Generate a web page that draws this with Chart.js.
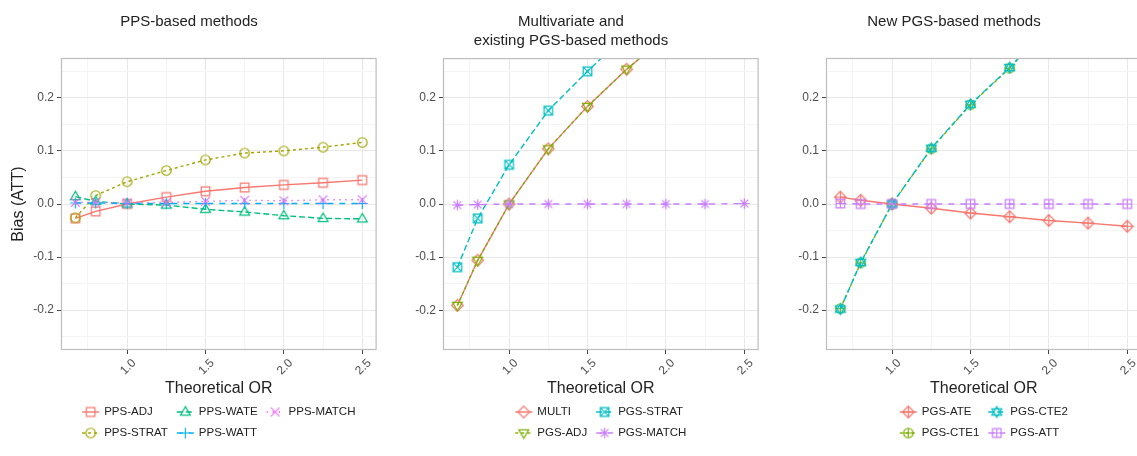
<!DOCTYPE html>
<html>
<head>
<meta charset="utf-8">
<script src="https://cdn.jsdelivr.net/npm/chart.js@4.4.1/dist/chart.umd.min.js"></script>
<style>
  html, body { margin: 0; padding: 0; background: #fff; overflow: hidden; }
  #wrap { position: relative; width: 1137px; height: 456px; overflow: hidden; }
  .panel { position: absolute; top: 0; width: 383px; height: 456px; }
</style>
</head>
<body>
<div id="wrap">
  <div class="panel" style="left:0"><canvas id="c1" width="383" height="456"></canvas></div>
  <div class="panel" style="left:382px"><canvas id="c2" width="383" height="456"></canvas></div>
  <div class="panel" style="left:765px"><canvas id="c3" width="383" height="456"></canvas></div>
</div>
<script>
// --- data ---
const theoreticalOR = [0.67, 0.8, 1.0, 1.25, 1.5, 1.75, 2.0, 2.25, 2.5];
const xMajorTicks = [1.0, 1.5, 2.0, 2.5];
const xMinorTicks = [0.75, 1.25, 1.75, 2.25];
const xTickLabels = ['1.0', '1.5', '2.0', '2.5'];
const yMajorTicks = [-0.2, -0.1, 0.0, 0.1, 0.2];
const yMinorTicks = [-0.25, -0.15, -0.05, 0.05, 0.15, 0.25];
const yTickLabels = ['-0.2', '-0.1', '0.0', '0.1', '0.2'];
const yLimits = [-0.25, 0.25];

// panel 1
const ppsLabels = ['PPS-ADJ', 'PPS-STRAT', 'PPS-WATE', 'PPS-WATT', 'PPS-MATCH'];
const ppsAdj   = [-0.027, -0.014, 0.000, 0.013, 0.024, 0.031, 0.036, 0.040, 0.045];
const ppsStrat = [-0.026, 0.016, 0.042, 0.063, 0.083, 0.096, 0.100, 0.107, 0.116];
const ppsWate  = [0.014, 0.005, 0.000, -0.002, -0.010, -0.015, -0.022, -0.027, -0.028];
const ppsWatt  = [0.002, 0.002, 0.001, 0.001, 0.001, 0.001, 0.001, 0.001, 0.001];
const ppsMatch = [0.003, 0.003, 0.002, 0.003, 0.005, 0.007, 0.006, 0.008, 0.008];

// panel 2
const existLabels = ['MULTI', 'PGS-ADJ', 'PGS-STRAT', 'PGS-MATCH'];
const multi    = [-0.191, -0.106, 0.000, 0.104, 0.184, 0.254, 0.315, 0.370, 0.420];
const pgsAdj   = [-0.191, -0.106, 0.000, 0.104, 0.184, 0.254, 0.315, 0.370, 0.420];
const pgsStrat = [-0.119, -0.027, 0.074, 0.176, 0.250, 0.320, 0.380, 0.430, 0.480];
const pgsMatch = [-0.002, -0.001, 0.000, 0.000, 0.000, 0.000, 0.000, 0.000, 0.001];

// panel 3
const newLabels = ['PGS-ATE', 'PGS-CTE1', 'PGS-CTE2', 'PGS-ATT'];
const pgsAte  = [0.013, 0.007, 0.000, -0.008, -0.017, -0.024, -0.031, -0.036, -0.042];
const pgsCte1 = [-0.197, -0.111, 0.000, 0.104, 0.187, 0.256, 0.335, 0.390, 0.440];
const pgsCte2 = [-0.198, -0.110, 0.000, 0.105, 0.188, 0.257, 0.335, 0.390, 0.440];
const pgsAtt  = [0.001, 0.000, 0.000, 0.000, 0.000, 0.000, 0.000, 0.000, 0.000];

// --- styles ---
const hue5 = ['#F8766D', '#A3A500', '#00BF7D', '#00B0F6', '#E76BF3'];
const hue4 = ['#F8766D', '#7CAE00', '#00BFC4', '#C77CFF'];
const dashes = { solid: [], '22': [3, 3], '42': [6, 3], '44': [6, 6], '13': [1.5, 4.5] };
const FONT = '"Liberation Sans", Arial, sans-serif';

// ggplot-like hollow point shapes, drawn once into little canvases
const R = 4.3;
const shapeParts = {
  square: [['square', 1]],
  circle: [['circle', 1.1]],
  triangle: [['tri', 1.05]],
  plus: [['plus', 1.25]],
  cross: [['x', 1]],
  diamond: [['diamond', 1.35]],
  triangleDown: [['triDown', 1.05]],
  squareCross: [['square', 1], ['x', 1]],
  asterisk: [['plus', 1.2], ['x', 0.9]],
  diamondPlus: [['diamond', 1.35], ['plus', 1.35]],
  circlePlus: [['circle', 1.1], ['plus', 1.1]],
  star: [['tri', 1.05], ['triDown', 1.05]],
  squarePlus: [['square', 1], ['plus', 1]]
};

function drawPrim(g, name, k) {
  const r = R * k;
  g.beginPath();
  if (name === 'square') g.rect(-r, -r, 2 * r, 2 * r);
  if (name === 'circle') g.arc(0, 0, r, 0, Math.PI * 2);
  if (name === 'tri') { g.moveTo(0, -r * 1.2); g.lineTo(r * 1.1, r * 0.7); g.lineTo(-r * 1.1, r * 0.7); g.closePath(); }
  if (name === 'triDown') { g.moveTo(0, r * 1.2); g.lineTo(r * 1.1, -r * 0.7); g.lineTo(-r * 1.1, -r * 0.7); g.closePath(); }
  if (name === 'diamond') { g.moveTo(0, -r); g.lineTo(r, 0); g.lineTo(0, r); g.lineTo(-r, 0); g.closePath(); }
  if (name === 'plus') { g.moveTo(-r, 0); g.lineTo(r, 0); g.moveTo(0, -r); g.lineTo(0, r); }
  if (name === 'x') { g.moveTo(-r, -r); g.lineTo(r, r); g.moveTo(-r, r); g.lineTo(r, -r); }
  g.stroke();
}

function marker(shape, color) {
  const c = document.createElement('canvas');
  c.width = 17; c.height = 17;
  const g = c.getContext('2d');
  g.translate(8.5, 8.5);
  g.strokeStyle = color;
  g.lineWidth = 1.2;
  shapeParts[shape].forEach(p => drawPrim(g, p[0], p[1]));
  return c;
}

function near(v, list) { return list.findIndex(t => Math.abs(t - v) < 1e-9); }

// panel border on top of the lines, like panel.border in ggplot
const panelBorder = {
  id: 'panelBorder',
  afterDatasetsDraw(chart) {
    const a = chart.chartArea, ctx = chart.ctx;
    ctx.save();
    ctx.strokeStyle = '#bdbdbd';
    ctx.lineWidth = 1.2;
    ctx.strokeRect(a.left + 0.5, a.top + 0.5, a.right - a.left - 1, a.bottom - a.top - 1);
    ctx.restore();
  }
};

// legend below the panel, 2 rows filled column by column
const bottomLegend = {
  id: 'bottomLegend',
  afterDraw(chart) {
    const ctx = chart.ctx, ds = chart.data.datasets, a = chart.chartArea;
    const rows = 2, cols = Math.ceil(ds.length / rows);
    const keyW = 17, keyGap = 5, colGap = 9;
    const rowY = [chart.height - 44, chart.height - 23];
    ctx.save();
    ctx.font = '11.5px ' + FONT;
    const colW = [];
    for (let c = 0; c < cols; c++) {
      let w = 0;
      for (let r = 0; r < rows; r++) {
        const d = ds[c * rows + r];
        if (d) w = Math.max(w, ctx.measureText(d.label).width);
      }
      colW.push(keyW + keyGap + w);
    }
    const total = colW.reduce((s, w) => s + w, 0) + colGap * (cols - 1);
    let x = (a.left + a.right) / 2 - total / 2;
    for (let c = 0; c < cols; c++) {
      for (let r = 0; r < rows; r++) {
        const d = ds[c * rows + r];
        if (!d) continue;
        const y = rowY[r];
        ctx.strokeStyle = d.borderColor;
        ctx.lineWidth = d.borderWidth;
        ctx.setLineDash(d.borderDash);
        ctx.beginPath();
        ctx.moveTo(x, y); ctx.lineTo(x + keyW, y);
        ctx.stroke();
        ctx.setLineDash([]);
        const m = d.pointStyle;
        ctx.drawImage(m, x + keyW / 2 - m.width / 2, y - m.height / 2);
        ctx.fillStyle = '#222';
        ctx.textBaseline = 'middle';
        ctx.fillText(d.label, x + keyW + keyGap, y);
      }
      x += colW[c] + colGap;
    }
    ctx.restore();
  }
};

function makePanel(id, title, labels, series, colors, dashNames, shapes, showYTitle) {
  const xMin = theoreticalOR[0] - 0.05 * (theoreticalOR[8] - theoreticalOR[0]);
  const xMax = theoreticalOR[8] + 0.05 * (theoreticalOR[8] - theoreticalOR[0]);
  const yPad = 0.05 * (yLimits[1] - yLimits[0]);
  const n = series.length;
  const twoLines = Array.isArray(title);

  new Chart(document.getElementById(id), {
    type: 'line',
    data: {
      datasets: series.map((vals, i) => ({
        label: labels[i],
        data: theoreticalOR.map((x, j) => ({ x: x, y: vals[j] })),
        borderColor: colors[i],
        borderWidth: 1.4,
        borderDash: dashes[dashNames[i]],
        pointStyle: marker(shapes[i], colors[i]),
        pointRadius: 5,
        pointHoverRadius: 5,
        fill: false,
        tension: 0,
        order: n - i
      }))
    },
    options: {
      responsive: false,
      animation: false,
      events: [],
      layout: { padding: { left: 0, right: 5, top: 0, bottom: 50 } },
      plugins: {
        legend: { display: false },
        tooltip: { enabled: false },
        title: {
          display: true,
          text: title,
          color: '#222',
          font: { family: FONT, size: 15, weight: 'normal', lineHeight: twoLines ? 1.27 : 1.2 },
          padding: twoLines ? { top: 12.5, bottom: 7.5 } : { top: 13, bottom: 27 }
        }
      },
      scales: {
        x: {
          type: 'linear',
          min: xMin,
          max: xMax,
          afterBuildTicks: s => { s.ticks = xMinorTicks.concat(xMajorTicks).sort((a, b) => a - b).map(v => ({ value: v })); },
          afterFit: s => { s.height = 56; },
          border: { display: false },
          grid: {
            color: c => near(c.tick.value, xMajorTicks) >= 0 ? '#e8e8e8' : '#f4f4f4',
            tickColor: c => near(c.tick.value, xMajorTicks) >= 0 ? '#444' : 'rgba(0,0,0,0)',
            tickLength: 4,
            lineWidth: 1
          },
          ticks: {
            autoSkip: false,
            minRotation: 45,
            maxRotation: 45,
            labelOffset: 7,
            padding: 2,
            color: '#4d4d4d',
            font: { family: FONT, size: 12 },
            callback: v => { const k = near(v, xMajorTicks); return k >= 0 ? xTickLabels[k] : ''; }
          },
          title: {
            display: true,
            text: 'Theoretical OR',
            color: '#222',
            font: { family: FONT, size: 16 },
            padding: { top: 2, bottom: 8 }
          }
        },
        y: {
          min: yLimits[0] - yPad,
          max: yLimits[1] + yPad,
          afterBuildTicks: s => { s.ticks = yMinorTicks.concat(yMajorTicks).sort((a, b) => a - b).map(v => ({ value: v })); },
          afterFit: s => { s.width = 61; },
          border: { display: false },
          grid: {
            color: c => near(c.tick.value, yMajorTicks) >= 0 ? '#e8e8e8' : '#f4f4f4',
            tickColor: c => near(c.tick.value, yMajorTicks) >= 0 ? '#444' : 'rgba(0,0,0,0)',
            tickLength: 4,
            lineWidth: 1
          },
          ticks: {
            autoSkip: false,
            padding: 3,
            color: '#4d4d4d',
            font: { family: FONT, size: 12 },
            callback: v => { const k = near(v, yMajorTicks); return k >= 0 ? yTickLabels[k] : ''; }
          },
          title: {
            display: showYTitle,
            text: 'Bias (ATT)',
            color: '#222',
            font: { family: FONT, size: 16 },
            padding: { top: 9, bottom: 0 }
          }
        }
      }
    },
    plugins: [panelBorder, bottomLegend]
  });
}

makePanel('c1', 'PPS-based methods', ppsLabels,
  [ppsAdj, ppsStrat, ppsWate, ppsWatt, ppsMatch], hue5,
  ['solid', '22', '42', '44', '13'],
  ['square', 'circle', 'triangle', 'plus', 'cross'], true);

makePanel('c2', ['Multivariate and', 'existing PGS-based methods'], existLabels,
  [multi, pgsAdj, pgsStrat, pgsMatch], hue4,
  ['solid', '22', '42', '44'],
  ['diamond', 'triangleDown', 'squareCross', 'asterisk'], false);

makePanel('c3', 'New PGS-based methods', newLabels,
  [pgsAte, pgsCte1, pgsCte2, pgsAtt], hue4,
  ['solid', '22', '42', '44'],
  ['diamondPlus', 'circlePlus', 'star', 'squarePlus'], false);
</script>
</body>
</html>
